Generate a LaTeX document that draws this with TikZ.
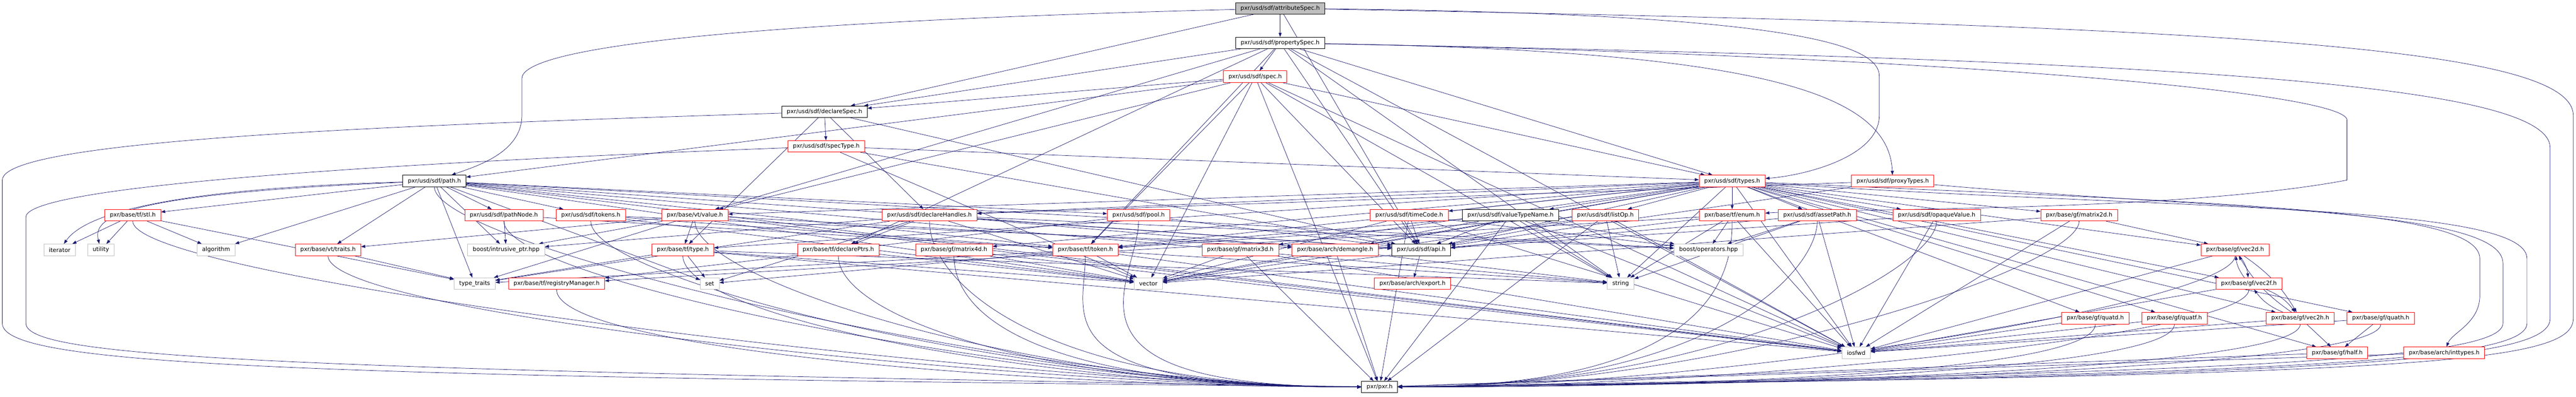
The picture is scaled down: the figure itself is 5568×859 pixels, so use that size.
\documentclass[tikz,border=0pt]{standalone}
\usepackage{fontspec}
\setmainfont{DejaVu Sans}
\usetikzlibrary{arrows.meta,backgrounds,calc}
\definecolor{midnightblue}{HTML}{191970}
\definecolor{nodegray}{HTML}{BFBFBF}
\tikzset{
	hdr/.style={draw, fill=white, minimum height=25pt, inner xsep=11pt, inner ysep=0pt,
		line width=0.9pt, font=\fontsize{12.5}{14}\selectfont},
	curhdr/.style={hdr, draw=black, fill=nodegray},
	blkhdr/.style={hdr, draw=black},
	redhdr/.style={hdr, draw=red},
	syshdr/.style={hdr, draw=nodegray},
	dep/.style={-{Triangle[length=9pt,width=6.5pt]}, midnightblue, line width=0.8pt}
}
\begin{document}
\begin{tikzpicture}[x=1pt,y=1pt]
	\useasboundingbox (0,0) rectangle (5568,-859);

	% draw headers, row by row
	\node[curhdr] (attr) at (2767,-18) {pxr/usd/sdf/attributeSpec.h};
	\node[blkhdr] (prop) at (2767,-93) {pxr/usd/sdf/propertySpec.h};
	\node[redhdr] (spec) at (2713,-166) {pxr/usd/sdf/spec.h};
	\node[blkhdr] (declspec) at (1782,-242) {pxr/usd/sdf/declareSpec.h};
	\node[redhdr] (spectype) at (1786,-317) {pxr/usd/sdf/specType.h};
	\node[blkhdr] (path) at (939,-392) {pxr/usd/sdf/path.h};
	\node[redhdr] (types) at (3744,-392) {pxr/usd/sdf/types.h};
	\node[redhdr] (proxy) at (4091,-392) {pxr/usd/sdf/proxyTypes.h};

	\node[redhdr] (stl) at (287,-466) {pxr/base/tf/stl.h};
	\node[redhdr] (pathnode) at (1089,-466) {pxr/usd/sdf/pathNode.h};
	\node[redhdr] (tokens) at (1277,-466) {pxr/usd/sdf/tokens.h};
	\node[redhdr] (value) at (1502,-466) {pxr/base/vt/value.h};
	\node[redhdr] (declhandles) at (2009,-466) {pxr/usd/sdf/declareHandles.h};
	\node[redhdr] (pool) at (2461,-466) {pxr/usd/sdf/pool.h};
	\node[redhdr] (timecode) at (3046,-466) {pxr/usd/sdf/timeCode.h};
	\node[blkhdr] (vtn) at (3265,-466) {pxr/usd/sdf/valueTypeName.h};
	\node[redhdr] (listop) at (3470,-466) {pxr/usd/sdf/listOp.h};
	\node[redhdr] (enum) at (3744,-466) {pxr/base/tf/enum.h};
	\node[redhdr] (asset) at (3928,-466) {pxr/usd/sdf/assetPath.h};
	\node[redhdr] (opaque) at (4186,-466) {pxr/usd/sdf/opaqueValue.h};
	\node[redhdr] (mat2d) at (4494,-466) {pxr/base/gf/matrix2d.h};

	\node[syshdr] (iterator) at (129,-541) {iterator};
	\node[syshdr] (utility) at (218,-541) {utility};
	\node[syshdr] (algorithm) at (467,-541) {algorithm};
	\node[redhdr] (traits) at (709,-541) {pxr/base/vt/traits.h};
	\node[syshdr] (intrusive) at (1094,-541) {boost/intrusive\_ptr.hpp};
	\node[redhdr] (type) at (1476,-541) {pxr/base/tf/type.h};
	\node[redhdr] (declptrs) at (1812,-541) {pxr/base/tf/declarePtrs.h};
	\node[redhdr] (mat4d) at (2062,-541) {pxr/base/gf/matrix4d.h};
	\node[redhdr] (token) at (2346,-541) {pxr/base/tf/token.h};
	\node[redhdr] (mat3d) at (2681,-541) {pxr/base/gf/matrix3d.h};
	\node[redhdr] (demangle) at (2886,-541) {pxr/base/arch/demangle.h};
	\node[blkhdr] (api) at (3072,-541) {pxr/usd/sdf/api.h};
	\node[syshdr] (operators) at (3693,-541) {boost/operators.hpp};
	\node[redhdr] (vec2d) at (4831,-541) {pxr/base/gf/vec2d.h};

	\node[syshdr] (typetraits) at (1026,-614) {type\_traits};
	\node[redhdr] (regmgr) at (1203,-614) {pxr/base/tf/registryManager.h};
	\node[syshdr] (set) at (1534,-614) {set};
	\node[syshdr] (vector) at (2482,-614) {vector};
	\node[redhdr] (export) at (3053,-614) {pxr/base/arch/export.h};
	\node[syshdr] (string) at (3503,-614) {string};
	\node[redhdr] (vec2f) at (4861,-614) {pxr/base/gf/vec2f.h};

	\node[redhdr] (quatd) at (4529,-689) {pxr/base/gf/quatd.h};
	\node[redhdr] (quatf) at (4700,-689) {pxr/base/gf/quatf.h};
	\node[redhdr] (vec2h) at (4972,-689) {pxr/base/gf/vec2h.h};
	\node[redhdr] (quath) at (5146,-689) {pxr/base/gf/quath.h};

	\node[syshdr] (iosfwd) at (4012,-764) {iosfwd};
	\node[redhdr] (half) at (5052,-764) {pxr/base/gf/half.h};
	\node[redhdr] (inttypes) at (5283,-764) {pxr/base/arch/inttypes.h};

	\node[blkhdr] (pxr) at (2982,-838) {pxr/pxr.h};

	\begin{pgfonlayer}{background}
	% draw straight includes
	\foreach \t in {prop,declspec,api}
		\draw[dep] (attr) -- (\t);
	\foreach \t in {spec,declspec,value,declptrs,token,api,iosfwd,string,types}
		\draw[dep] (prop) -- (\t);
	\foreach \t in {declspec,path,types,token,value,api,iosfwd,vector,string,pxr}
		\draw[dep] (spec) -- (\t);
	\foreach \t in {declhandles,spectype,type,api}
		\draw[dep] (declspec) -- (\t);
	\foreach \t in {types,vector,api}
		\draw[dep] (spectype) -- (\t);
	\foreach \t in {pathnode,tokens,stl,traits,intrusive,typetraits,pool,token,api,operators,algorithm,set,string,vector,iosfwd}
		\draw[dep] (path) -- (\t);
	\foreach \t in {asset,enum,listop,opaque,timecode,vtn,mat2d,mat3d,mat4d,declhandles,value,token,type,api,iosfwd,string,vector,demangle,vec2d,vec2f,vec2h,quatd,quatf,quath,half}
		\draw[dep] (types) -- (\t);
	\foreach \t in {declhandles,api}
		\draw[dep] (proxy) -- (\t);
	\foreach \t in {iterator,utility,algorithm,typetraits}
		\draw[dep] (stl) -- (\t);
	\foreach \t in {intrusive,token}
		\draw[dep] (pathnode) -- (\t);
	\foreach \t in {token,api,vector}
		\draw[dep] (tokens) -- (\t);
	\foreach \t in {traits,type,demangle,intrusive,typetraits,iosfwd}
		\draw[dep] (value) -- (\t);
	\foreach \t in {declptrs,api,demangle,intrusive,operators,set,typetraits,vector}
		\draw[dep] (declhandles) -- (\t);
	\foreach \t in {regmgr,api}
		\draw[dep] (pool) -- (\t);
	\foreach \t in {api,iosfwd,vector,operators,pxr}
		\draw[dep] (timecode) -- (\t);
	\foreach \t in {api,token,string,iosfwd,vector,operators,pxr}
		\draw[dep] (vtn) -- (\t);
	\foreach \t in {api,string,iosfwd,vector,token,pxr}
		\draw[dep] (listop) -- (\t);
	\foreach \t in {operators,regmgr,string,iosfwd,vector}
		\draw[dep] (enum) -- (\t);
	\foreach \t in {api,operators,string,iosfwd}
		\draw[dep] (asset) -- (\t);
	\foreach \t in {api,iosfwd}
		\draw[dep] (opaque) -- (\t);
	\foreach \t in {vec2d,iosfwd,vector}
		\draw[dep] (mat2d) -- (\t);
	\draw[dep] (traits) -- (typetraits);
	\foreach \t in {set,iosfwd,string,vector,typetraits}
		\draw[dep] (type) -- (\t);
	\draw[dep] (declptrs) -- (vector);
	\foreach \t in {iosfwd,vector}
		\draw[dep] (mat4d) -- (\t);
	\foreach \t in {vector,string,iosfwd,set,typetraits}
		\draw[dep] (token) -- (\t);
	\foreach \t in {vector,iosfwd,pxr}
		\draw[dep] (mat3d) -- (\t);
	\foreach \t in {string,pxr}
		\draw[dep] (demangle) -- (\t);
	\draw[dep] (api) -- (export);
	\foreach \s in {vec2d,vec2f,vec2h,quatd,quatf,quath}
		\draw[dep] (\s) -- (iosfwd);
	\draw[dep] (vec2h) -- (half);
	\draw[dep] (quath) -- (half);
	\draw[dep] (half) -- (pxr);
	\draw[dep] (inttypes) -- (pxr);

	% gf vectors include each other
	\draw[dep] (vec2d) to[bend left=15] (vec2f);
	\draw[dep] (vec2f) to[bend left=15] (vec2d);
	\draw[dep] (vec2f) to[bend left=15] (vec2h);
	\draw[dep] (vec2h) to[bend left=15] (vec2f);
	\draw[dep] (vec2d) to[bend left=12] (vec2h);
	\draw[dep] (vec2h) to[bend left=12] (vec2d);

	% draw edges to pxr.h
	\foreach \s in {path,stl,pathnode,tokens,value,declhandles,pool,traits,type,declptrs,mat4d,token,regmgr}
		\draw[dep] (\s.south) .. controls ($(\s.south)+(0,-130)$) and ($(pxr.west)+(-700,0)$) .. (pxr.west);
	\foreach \s in {enum,asset,opaque,mat2d,vec2d,vec2f,vec2h,quatd,quatf,quath}
		\draw[dep] (\s.south) .. controls ($(\s.south)+(0,-100)$) and ($(pxr.east)+(700,0)$) .. (pxr.east);

	% draw routed edges
	\draw[dep] (path) .. controls (500,-405) and (200,-440) .. (iterator);
	\draw[dep] (path) .. controls (260,-420) and (200,-470) .. (utility);
	\draw[dep] (attr) .. controls (1500,-50) and (1128,-110) .. (1128,-170)
		-- (1128,-250) .. controls (1128,-330) and (1030,-360) .. (path);
	\draw[dep] (attr) .. controls (3900,-30) and (4062,-100) .. (4062,-165)
		-- (4062,-250) .. controls (4062,-340) and (3900,-380) .. (types);
	\draw[dep] (prop) .. controls (3800,-110) and (4083,-200) .. (proxy);
	\draw[dep] (prop) .. controls (4200,-120) and (5073,-200) .. (5073,-260)
		-- (5073,-390) .. controls (4700,-460) and (4000,-450) .. (enum);
	\draw[dep] (attr) .. controls (4800,-55) and (5562,-100) .. (5562,-250)
		-- (5562,-690) .. controls (5562,-790) and (5200,-812) .. (pxr);
	\draw[dep] (prop) .. controls (4700,-130) and (5512,-180) .. (5512,-320)
		-- (5512,-690) .. controls (5512,-780) and (5100,-815) .. (pxr);
	\draw[dep] (types) .. controls (4700,-455) and (5462,-440) .. (5462,-560)
		-- (5462,-700) .. controls (5462,-780) and (5000,-812) .. (pxr);
	\draw[dep] (proxy) .. controls (4800,-455) and (5410,-450) .. (5410,-570)
		-- (5410,-700) .. controls (5410,-775) and (4900,-808) .. (pxr);
	\draw[dep] (types) .. controls (4800,-440) and (5360,-450) .. (5360,-560)
		-- (5360,-640) .. controls (5360,-700) and (5300,-720) .. (inttypes);
	\draw[dep] (declspec) .. controls (900,-270) and (5,-300) .. (5,-390)
		-- (5,-700) .. controls (5,-790) and (600,-815) .. (pxr);
	\draw[dep] (spectype) .. controls (900,-350) and (56,-400) .. (56,-470)
		-- (56,-700) .. controls (56,-775) and (600,-800) .. (pxr);
	\end{pgfonlayer}

\end{tikzpicture}
\end{document}
